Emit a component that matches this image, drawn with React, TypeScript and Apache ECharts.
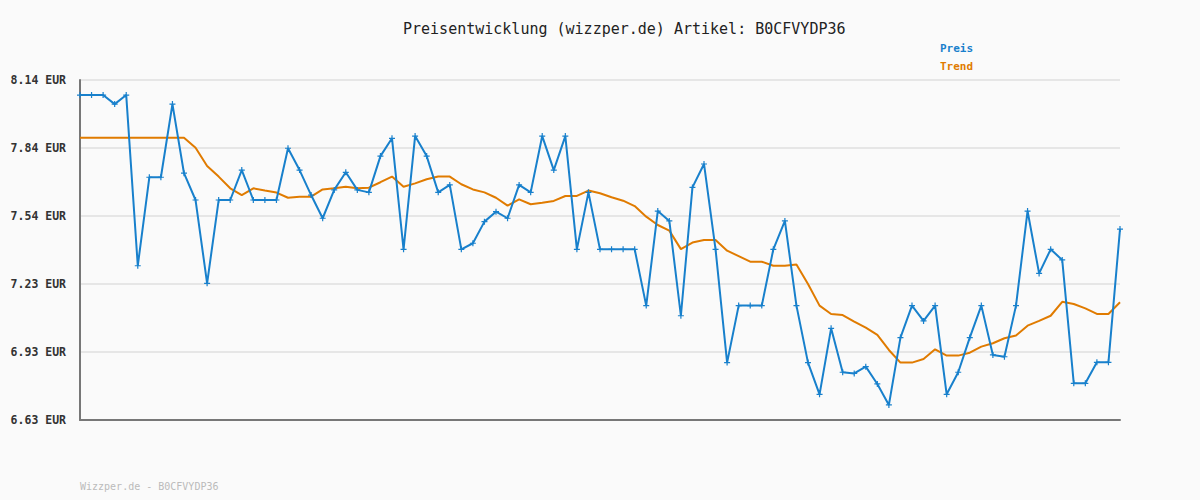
import React, { useEffect, useRef } from "react";
import * as echarts from "echarts";

const titleText = "Preisentwicklung (wizzper.de) Artikel: B0CFVYDP36";
const footerText = "Wizzper.de - B0CFVYDP36";
const seriesNames = ["Preis", "Trend"];

const preis = [
  8.073, 8.073, 8.073, 8.033, 8.073, 7.315, 7.708, 7.708, 8.033, 7.726,
  7.607, 7.237, 7.607, 7.607, 7.740, 7.607, 7.607, 7.607, 7.837, 7.740,
  7.629, 7.526, 7.652, 7.730, 7.652, 7.641, 7.802, 7.881, 7.388, 7.891,
  7.802, 7.641, 7.674, 7.388, 7.415, 7.511, 7.555, 7.526, 7.674, 7.641,
  7.891, 7.740, 7.891, 7.388, 7.641, 7.388, 7.388, 7.388, 7.388, 7.138,
  7.558, 7.514, 7.093, 7.663, 7.767, 7.388, 6.885, 7.138, 7.138, 7.138,
  7.388, 7.514, 7.138, 6.885, 6.744, 7.037, 6.842, 6.837, 6.867, 6.790,
  6.697, 6.996, 7.138, 7.070, 7.138, 6.744, 6.842, 6.996, 7.138, 6.919,
  6.911, 7.138, 7.558, 7.281, 7.388, 7.341, 6.793, 6.793, 6.886, 6.886,
  7.478,
];

const trend = [
  7.884, 7.884, 7.884, 7.884, 7.884, 7.884, 7.884, 7.884, 7.884, 7.884,
  7.839, 7.758, 7.711, 7.659, 7.629, 7.659, 7.649, 7.640, 7.617, 7.622,
  7.622, 7.654, 7.659, 7.666, 7.659, 7.662, 7.686, 7.711, 7.666, 7.681,
  7.699, 7.711, 7.711, 7.677, 7.654, 7.641, 7.617, 7.582, 7.610, 7.588,
  7.595, 7.603, 7.625, 7.625, 7.649, 7.637, 7.619, 7.604, 7.580, 7.533,
  7.496, 7.471, 7.389, 7.418, 7.429, 7.429, 7.382, 7.358, 7.333, 7.333,
  7.315, 7.315, 7.321, 7.234, 7.138, 7.101, 7.096, 7.067, 7.040, 7.008,
  6.941, 6.885, 6.885, 6.901, 6.944, 6.916, 6.916, 6.929, 6.956, 6.971,
  6.993, 7.005, 7.049, 7.070, 7.093, 7.155, 7.145, 7.126, 7.101, 7.101,
  7.153,
];

const categories = preis.map((_, i) => String(i + 1));

const yMin = 6.63;
const yMax = 8.14;
const yTicks = [6.63, 6.932, 7.234, 7.536, 7.838, 8.14];

const BLUE = "#1880cc";
const ORANGE = "#e07b00";
const MONO = "'DejaVu Sans Mono', 'Liberation Mono', monospace";

export default function App() {
  const ref = useRef<HTMLDivElement>(null);
  useEffect(() => {
    if (!ref.current) return;
    const chart = echarts.init(ref.current, null, { renderer: "svg" });
    chart.setOption({
      animation: false,
      backgroundColor: "#fafafa",
      title: {
        text: titleText,
        left: 398,
        top: 16,
        textStyle: { fontFamily: MONO, fontSize: 15, fontWeight: "normal", color: "#222" },
      },
      legend: {
        data: [
          { name: "Preis", textStyle: { color: BLUE } },
          { name: "Trend", textStyle: { color: ORANGE } },
        ],
        orient: "vertical",
        left: 930,
        top: 38,
        itemGap: 7,
        itemWidth: 0,
        itemHeight: 0,
        icon: "rect",
        textStyle: { fontFamily: MONO, fontSize: 11, fontWeight: "bold" },
      },
      graphic: [
        {
          type: "text",
          left: 80,
          top: 481,
          style: { text: footerText, fontFamily: MONO, fontSize: 10, fill: "#bbbbbb" },
        },
      ],
      grid: { left: 80, right: 80, top: 80, bottom: 80, containLabel: false },
      xAxis: {
        type: "category",
        data: categories,
        boundaryGap: false,
        axisLine: { show: true, lineStyle: { color: "#777", width: 2 } },
        axisTick: { show: false },
        axisLabel: { show: false },
        splitLine: { show: false },
      },
      yAxis: {
        type: "value",
        min: yMin,
        max: yMax,
        axisLine: { show: true, lineStyle: { color: "#777", width: 2 } },
        axisTick: { show: false, customValues: yTicks },
        axisLabel: {
          customValues: yTicks,
          formatter: (v: number) => v.toFixed(2) + " EUR",
          fontFamily: MONO,
          fontSize: 11.5,
          fontWeight: "bold",
          color: "#333",
          margin: 14,
        },
        splitLine: { show: true, lineStyle: { color: "#e6e6e6", width: 2 } },
      },
      series: [
        {
          name: seriesNames[0],
          type: "line",
          data: preis,
          color: BLUE,
          lineStyle: { color: BLUE, width: 2 },
          symbol: "path://M2,0H3V2H5V3H3V5H2V3H0V2H2Z",
          symbolSize: 6,
          itemStyle: { color: BLUE },
          z: 3,
        },
        {
          name: seriesNames[1],
          type: "line",
          data: trend,
          color: ORANGE,
          lineStyle: { color: ORANGE, width: 2 },
          symbol: "none",
          showSymbol: false,
          z: 2,
        },
      ],
    });
    return () => chart.dispose();
  }, []);
  return (
    <div
      ref={ref}
      style={{ position: "absolute", left: 0, top: 0, width: 1200, height: 500 }}
    />
  );
}
